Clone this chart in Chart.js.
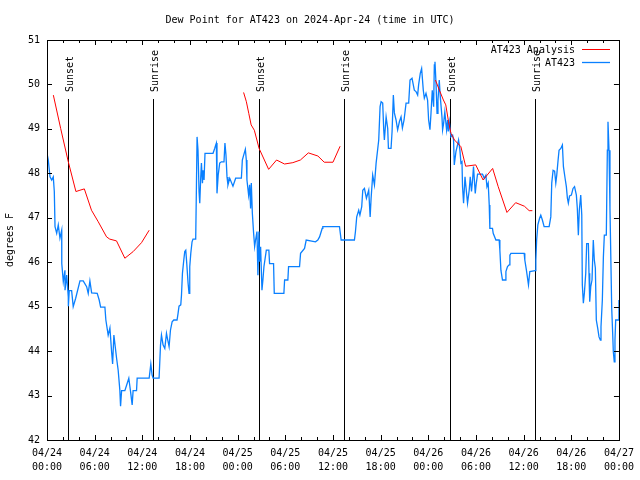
<!DOCTYPE html>
<html>
<head>
<meta charset="utf-8">
<script src="https://cdn.jsdelivr.net/npm/chart.js@4.4.0/dist/chart.umd.min.js"></script>
<style>
  html, body { margin: 0; padding: 0; background: #fff; }
  #wrap { width: 640px; height: 480px; }
</style>
</head>
<body>
<div id="wrap"><canvas id="dewChart" width="640" height="480"></canvas></div>
<script>
// hours since 04/24 00:00 UTC
const tickDates = ['04/24', '04/24', '04/24', '04/24', '04/25', '04/25', '04/25', '04/25', '04/26', '04/26', '04/26', '04/26', '04/27']
const tickTimes = ['00:00', '06:00', '12:00', '18:00', '00:00', '06:00', '12:00', '18:00', '00:00', '06:00', '12:00', '18:00', '00:00']

const sunHours = [2.68, 13.36, 26.68, 37.36, 50.77, 61.45]
const sunNames = ['Sunset', 'Sunrise', 'Sunset', 'Sunrise', 'Sunset', 'Sunrise']

// AT423 Analysis (hourly model), three nightly pieces
const anaHours1 = [0.8, 1.72, 2.68, 3.64, 4.15, 4.7, 5.6, 6.45, 7.5, 7.9, 8.75, 9.8, 10.85, 11.9, 12.86]
const anaDew1 = [49.76, 49.01, 48.26, 47.59, 47.62, 47.65, 47.17, 46.91, 46.57, 46.52, 46.48, 46.09, 46.24, 46.44, 46.72]
const anaHours2 = [24.75, 25.1, 25.4, 25.7, 26.1, 26.7, 27.9, 28.9, 29.9, 30.95, 31.9, 32.9, 34.1, 34.9, 36.0, 36.9]
const anaDew2 = [49.82, 49.61, 49.35, 49.09, 48.97, 48.56, 48.09, 48.30, 48.21, 48.24, 48.30, 48.46, 48.39, 48.25, 48.25, 48.61]
const anaHours3 = [48.9, 49.4, 49.9, 50.2, 50.55, 50.85, 51.3, 52.1, 52.7, 53.97, 54.9, 56.1, 56.8, 57.9, 59.0, 60.1, 60.7, 61.1]
const anaDew3 = [50.10, 49.87, 49.65, 49.54, 49.16, 48.90, 48.75, 48.60, 48.16, 48.19, 47.85, 48.11, 47.70, 47.12, 47.34, 47.26, 47.16, 47.16]

// AT423 observations [hour, dew point F]
const obsDay1 = [
    [0, 48.45], [0.16, 48.30], [0.38, 47.92], [0.59, 47.85], [0.79, 47.92], [0.92, 47.59], [1.01, 46.80], [1.22, 46.65],
    [1.42, 46.84], [1.63, 46.54], [1.85, 46.72], [1.86, 45.97], [2.05, 45.56], [2.26, 45.82], [2.27, 45.37], [2.48, 45.71],
    [2.68, 45.22], [2.69, 45.01], [2.80, 45.36], [3.10, 45.36], [3.30, 45.00], [3.61, 45.19], [4.15, 45.58], [4.56, 45.58],
    [4.99, 45.45], [5.19, 45.30], [5.40, 45.58], [5.62, 45.31], [6.32, 45.30], [6.57, 45.15], [6.75, 44.99], [7.29, 44.99],
    [7.41, 44.70], [7.70, 44.36], [7.92, 44.52], [8.13, 43.99], [8.26, 43.71], [8.42, 44.36], [8.76, 43.84], [8.96, 43.57],
    [9.17, 43.12], [9.26, 42.76], [9.39, 43.11], [9.80, 43.11], [10.09, 43.27], [10.30, 43.39], [10.43, 43.21], [10.52, 43.09],
    [10.72, 42.79], [10.84, 43.11], [11.27, 43.11], [11.35, 43.39], [12.86, 43.39], [13.07, 43.71], [13.23, 43.46], [13.36, 43.39],
    [14.11, 43.39], [14.29, 44.14], [14.41, 44.36], [14.61, 44.14], [14.83, 44.06], [15.04, 44.40], [15.20, 44.25], [15.37, 44.10],
    [15.54, 44.47], [15.75, 44.66], [15.96, 44.70], [16.37, 44.70], [16.50, 44.85], [16.62, 45.01], [16.84, 45.04], [16.93, 45.26],
    [17.05, 45.75], [17.22, 46.05], [17.34, 46.24], [17.47, 46.27], [17.59, 45.98], [17.76, 45.53], [17.88, 45.30], [17.97, 45.90],
    [18.10, 46.20], [18.26, 46.46], [18.38, 46.52], [18.72, 46.52], [18.81, 47.69], [18.89, 48.82], [19.01, 48.52], [19.14, 47.59],
    [19.23, 47.33], [19.35, 47.90], [19.44, 48.23], [19.57, 47.78], [19.64, 48.07], [19.77, 47.85], [19.89, 48.45], [20.90, 48.45],
    [21.11, 48.56], [21.24, 48.64], [21.32, 48.68], [21.40, 47.55], [21.55, 47.96], [21.74, 48.23], [21.95, 48.26], [22.28, 48.26],
    [22.40, 48.68], [22.53, 48.41], [22.66, 47.92], [22.78, 47.74], [23.00, 47.89], [23.41, 47.71], [23.75, 47.89]
]
const obsDay2 = [
    [24.47, 47.89], [24.59, 48.30], [24.76, 48.41], [24.97, 48.54], [25.09, 48.30], [25.17, 47.85], [25.38, 47.51], [25.51, 47.74],
    [25.63, 47.21], [25.72, 47.78], [25.85, 47.10], [26.01, 46.65], [26.14, 46.35], [26.26, 46.50], [26.43, 46.69], [26.55, 45.71],
    [26.68, 46.69], [26.77, 46.01], [26.89, 46.35], [27.06, 45.37], [27.18, 45.60], [27.31, 45.90], [27.61, 46.27], [27.93, 46.27],
    [28.02, 45.97], [28.52, 45.97], [28.61, 45.30], [29.82, 45.30], [29.91, 45.60], [30.32, 45.60], [30.41, 45.90], [31.79, 45.90],
    [31.92, 46.20], [32.42, 46.31], [32.63, 46.50], [33.80, 46.46], [34.09, 46.50], [34.31, 46.57], [34.64, 46.76], [34.72, 46.80],
    [36.82, 46.80], [37.03, 46.50], [38.70, 46.50], [38.83, 46.69], [38.99, 47.02], [39.24, 47.17], [39.39, 47.06], [39.62, 47.25],
    [39.75, 47.62], [39.96, 47.66], [40.21, 47.44], [40.50, 47.62], [40.68, 47.02], [40.80, 47.44], [41.00, 47.96], [41.22, 47.74],
    [41.43, 48.23], [41.76, 48.75], [41.93, 49.50], [42.06, 49.61], [42.26, 49.58], [42.39, 48.98], [42.47, 48.75], [42.69, 49.27],
    [42.89, 49.01], [42.98, 48.56], [43.31, 48.56], [43.44, 48.94], [43.60, 49.76], [43.73, 49.36], [43.94, 49.20], [44.14, 48.98],
    [44.36, 49.16], [44.57, 49.27], [44.74, 49.02], [44.95, 49.20], [45.20, 49.58], [45.53, 49.58], [45.70, 50.10], [45.95, 50.14],
    [46.24, 49.87], [46.45, 49.84], [46.66, 49.76], [46.78, 49.99], [46.99, 50.25], [47.16, 50.36], [47.37, 49.87], [47.50, 49.69],
    [47.71, 49.80], [47.91, 49.65]
]
const obsDay3 = [
    [48.04, 49.20], [48.21, 48.98], [48.34, 49.35], [48.50, 49.87], [48.67, 49.50], [48.76, 50.44], [48.84, 50.51], [48.97, 50.03],
    [49.10, 49.35], [49.22, 49.65], [49.38, 50.10], [49.51, 49.72], [49.72, 49.27], [49.80, 48.98], [49.93, 49.13], [50.08, 49.38],
    [50.30, 48.98], [50.43, 49.20], [50.51, 48.94], [50.64, 49.16], [50.85, 48.82], [51.06, 48.86], [51.18, 48.75], [51.27, 48.19],
    [51.48, 48.49], [51.68, 48.64], [51.81, 48.75], [51.98, 48.52], [52.11, 48.23], [52.24, 48.26], [52.31, 47.70], [52.44, 47.33],
    [52.62, 47.92], [52.82, 47.55], [52.94, 47.33], [53.15, 47.62], [53.28, 47.92], [53.44, 47.59], [53.57, 47.85], [53.69, 48.15],
    [53.91, 47.55], [54.03, 47.76], [54.20, 47.98], [54.83, 47.98], [55.04, 47.89], [55.25, 47.96], [55.38, 47.70], [55.54, 47.78],
    [55.67, 47.29], [55.75, 46.76], [56.08, 46.76], [56.17, 46.65], [56.51, 46.50], [56.92, 46.50], [57.01, 46.27], [57.14, 45.82],
    [57.34, 45.60], [57.68, 45.60], [57.77, 45.79], [57.97, 45.90], [58.18, 45.94], [58.27, 46.16], [58.40, 46.20], [60.07, 46.20],
    [60.15, 46.05], [60.35, 45.82], [60.61, 45.49], [60.78, 45.79], [61.45, 45.81], [61.54, 46.05], [61.64, 46.50], [61.79, 46.84],
    [62.01, 46.99], [62.16, 47.06], [62.36, 46.95], [62.58, 46.80], [63.21, 46.80], [63.42, 47.02], [63.54, 47.78], [63.71, 48.07],
    [63.90, 48.05], [64.05, 47.78], [64.17, 47.96], [64.34, 48.30], [64.46, 48.52], [64.68, 48.56], [64.88, 48.64], [65.01, 48.15],
    [65.22, 47.89], [65.38, 47.70], [65.51, 47.44], [65.63, 47.33], [65.78, 47.49], [66.01, 47.51], [66.22, 47.66], [66.41, 47.70],
    [66.64, 47.51], [66.76, 47.21], [66.89, 46.61], [67.01, 47.17], [67.19, 47.51], [67.32, 47.06], [67.39, 45.49], [67.52, 45.08],
    [67.65, 45.31], [67.82, 45.75], [67.94, 46.42], [68.15, 46.42], [68.23, 45.75], [68.32, 45.11], [68.45, 45.45], [68.61, 45.60],
    [68.77, 46.50], [68.90, 46.05], [69.03, 45.87], [69.15, 44.70], [69.33, 44.51], [69.49, 44.32], [69.66, 44.25], [69.74, 44.55],
    [69.91, 45.15], [70.04, 46.12], [70.16, 46.61], [70.41, 46.61], [70.54, 48.52], [70.62, 49.16], [70.75, 48.52], [70.87, 47.21],
    [71.09, 44.96], [71.21, 44.40], [71.29, 43.99], [71.41, 43.76], [71.50, 44.25], [71.59, 44.70], [71.92, 44.70], [72.00, 45.15]
]

const mono = 'DejaVu Sans Mono'
Chart.defaults.font.family = mono
Chart.defaults.font.size = 10
Chart.defaults.color = '#000'

const zipXY = (xs, ys) => xs.map((x, i) => ({ x: x, y: ys[i] }))
const gap = (x) => ({ x: x, y: null })

const analysisData = [
    ...zipXY(anaHours1, anaDew1), gap(18),
    ...zipXY(anaHours2, anaDew2), gap(42),
    ...zipXY(anaHours3, anaDew3)
]
const obsData = [...obsDay1, ...obsDay2, ...obsDay3].map(p => ({ x: p[0], y: p[1] }))

// gnuplot look: box frame, inward ticks, sun lines, legend text-then-sample
const gnuplotFrame = {
    id: 'gnuplotFrame',
    beforeDatasetsDraw(chart) {
        const ctx = chart.ctx
        const xs = chart.scales.x
        const a = chart.chartArea
        ctx.save()
        ctx.strokeStyle = '#000'
        ctx.lineWidth = 1
        ctx.fillStyle = '#000'
        ctx.font = '10px ' + mono
        sunHours.forEach((h, i) => {
            const px = Math.round(xs.getPixelForValue(h)) + 0.5
            ctx.beginPath()
            ctx.moveTo(px, 99)
            ctx.lineTo(px, a.bottom)
            ctx.stroke()
            ctx.save()
            ctx.translate(px + 1.5, 92)
            ctx.rotate(-Math.PI / 2)
            ctx.textAlign = 'left'
            ctx.textBaseline = 'middle'
            ctx.fillText(sunNames[i], 0, 0)
            ctx.restore()
        })
        ctx.restore()
    },
    afterDraw(chart) {
        const ctx = chart.ctx
        const xs = chart.scales.x
        const ys = chart.scales.y
        const a = chart.chartArea
        ctx.save()
        ctx.strokeStyle = '#000'
        ctx.lineWidth = 1
        ctx.beginPath()
        for (let h = 0; h <= 72; h += 2) {
            const px = Math.round(xs.getPixelForValue(h)) + 0.5
            const len = h % 6 === 0 ? 5 : 3
            ctx.moveTo(px, a.bottom); ctx.lineTo(px, a.bottom - len)
            ctx.moveTo(px, a.top); ctx.lineTo(px, a.top + len)
        }
        for (let v = 42; v <= 51; v++) {
            const py = Math.round(ys.getPixelForValue(v)) + 0.5
            ctx.moveTo(a.left, py); ctx.lineTo(a.left + 5, py)
            ctx.moveTo(a.right, py); ctx.lineTo(a.right - 5, py)
        }
        ctx.stroke()
        ctx.strokeRect(Math.round(a.left) + 0.5, Math.round(a.top) + 0.5,
            Math.round(a.right - a.left), Math.round(a.bottom - a.top))

        ctx.font = '10px ' + mono
        ctx.fillStyle = '#000'
        ctx.textAlign = 'right'
        ctx.textBaseline = 'middle'
        chart.data.datasets.forEach((ds, i) => {
            const y = 50 + i * 13
            ctx.fillText(ds.label, 575, y)
            ctx.strokeStyle = ds.borderColor
            ctx.lineWidth = ds.borderWidth
            ctx.beginPath()
            ctx.moveTo(582, y - 0.5)
            ctx.lineTo(610, y - 0.5)
            ctx.stroke()
        })
        ctx.restore()
    }
}

new Chart(document.getElementById('dewChart').getContext('2d'), {
    type: 'line',
    data: {
        datasets: [{
            label: 'AT423 Analysis',
            data: analysisData,
            borderColor: '#ff0000',
            borderWidth: 1,
            pointRadius: 0,
            spanGaps: false,
            tension: 0
        },
        {
            label: 'AT423',
            data: obsData,
            borderColor: '#0a80ff',
            borderWidth: 1.3,
            pointRadius: 0,
            tension: 0
        }]
    },
    options: {
        responsive: false,
        animation: false,
        events: [],
        layout: { padding: { top: 0, right: 20, left: 0, bottom: 0 } },
        scales: {
            x: {
                type: 'linear',
                min: 0,
                max: 72,
                afterFit: (s) => { s.height = 40 },
                grid: { display: false, drawTicks: false },
                border: { display: false },
                ticks: {
                    stepSize: 6,
                    autoSkip: false,
                    maxRotation: 0,
                    padding: 6,
                    font: { family: mono, size: 10, lineHeight: 1.4 },
                    callback: (v) => [tickDates[v / 6], tickTimes[v / 6]]
                }
            },
            y: {
                min: 42,
                max: 51,
                afterFit: (s) => { s.width = 47 },
                grid: { display: false, drawTicks: false },
                border: { display: false },
                title: { display: true, text: 'degrees F', padding: 4, font: { family: mono, size: 10 } },
                ticks: { stepSize: 1, padding: 7, font: { family: mono, size: 10 } }
            }
        },
        plugins: {
            legend: { display: false },
            tooltip: { enabled: false },
            title: {
                display: true,
                text: 'Dew Point for AT423 on 2024-Apr-24 (time in UTC)',
                padding: { top: 14, bottom: 14 },
                font: { family: mono, size: 10, weight: 'normal', lineHeight: 1.2 }
            }
        }
    },
    plugins: [gnuplotFrame]
})
</script>
</body>
</html>
